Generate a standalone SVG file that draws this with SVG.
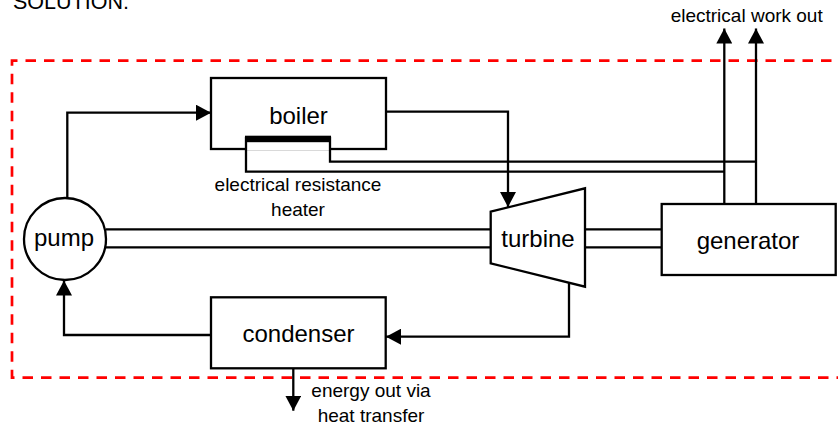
<svg xmlns="http://www.w3.org/2000/svg" width="838" height="430" viewBox="0 0 838 430">
<style>
  text { font-family: "Liberation Sans", Arial, sans-serif; fill: #000; }
  .big { font-size: 24px; text-anchor: middle; }
  .lbl { font-size: 19px; }
  .shape { fill: #fff; stroke: #000; stroke-width: 2.3; }
  .wire { fill: none; stroke: #000; stroke-width: 2.3; }
  .arr { fill: none; stroke: #000; stroke-width: 2.3; marker-end: url(#ah); }
  .boundary { fill: none; stroke: #ff0000; stroke-width: 2.7; stroke-dasharray: 10.5 8; }
</style>
<defs>
  <marker id="ah" markerUnits="userSpaceOnUse" markerWidth="16" markerHeight="16" refX="15" refY="8" orient="auto">
    <path d="M0,0 L15,8 L0,16 z" fill="#000"/>
  </marker>
</defs>
<rect width="838" height="430" fill="#fff"/>
<text x="13" y="9" style="font-size:21.5px">SOLUTION:</text>

<path id="boundary" class="boundary" d="M850,60.7 H12 V377.7 H850"/>

<g id="connectors">
  <!-- pump to boiler -->
  <path class="arr" d="M67.3,198 V112.7 H211"/>
  <!-- boiler to turbine -->
  <path class="arr" d="M386,111.7 H508 V207"/>
  <!-- turbine to condenser -->
  <path class="arr" d="M569,282.7 V336.7 H386"/>
  <!-- condenser to pump -->
  <path class="arr" d="M211,335 H64 V280.5"/>
  <!-- heat out -->
  <path class="arr" d="M293.3,352.7 V410.7"/>
  <!-- shafts pump-turbine -->
  <path class="wire" d="M106,229.3 H490.7 M106,247.3 H490.7"/>
  <!-- shafts turbine-generator -->
  <path class="wire" d="M585,229.3 H661.7 M585,247.3 H661.7"/>
  <!-- electrical work out -->
  <path class="arr" d="M724.3,204 V28.5"/>
  <path class="arr" d="M756,204 V28.5"/>
</g>

<g id="boiler">
  <rect class="shape" x="211" y="78" width="175" height="71"/>
  <text class="big" x="298.5" y="124">boiler</text>
</g>

<g id="heater">
  <rect x="247" y="138" width="82" height="12" fill="#fff"/>
  <path class="wire" d="M756,161.7 H330 V138 H246 V171.7 H724.3"/>
  <rect x="245" y="135.7" width="86" height="6.5" fill="#000"/>
  <text class="lbl" x="298" y="191" text-anchor="middle">electrical resistance</text>
  <text class="lbl" x="298" y="216" text-anchor="middle">heater</text>
</g>

<g id="pump">
  <circle class="shape" cx="65" cy="239" r="41"/>
  <text class="big" x="64" y="246">pump</text>
</g>

<g id="turbine">
  <path class="shape" d="M490.7,211.7 L585,188.3 V286.7 L490.7,263.3 Z"/>
  <text class="big" x="538" y="246.7">turbine</text>
</g>

<g id="generator">
  <rect class="shape" x="661.7" y="204" width="174" height="71"/>
  <text class="big" x="748" y="249.3">generator</text>
</g>

<g id="condenser">
  <rect class="shape" x="211" y="297.3" width="174.7" height="71"/>
  <text class="big" x="298.5" y="341.7">condenser</text>
</g>

<text class="lbl" x="746.7" y="21.7" text-anchor="middle">electrical work out</text>
<text class="lbl" x="371" y="396.7" text-anchor="middle">energy out via</text>
<text class="lbl" x="371" y="422" text-anchor="middle">heat transfer</text>
</svg>
